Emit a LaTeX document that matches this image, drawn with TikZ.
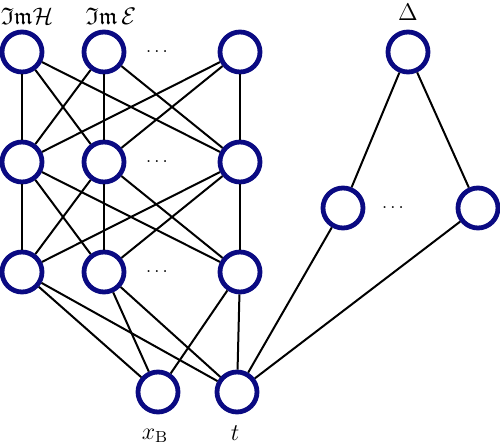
\documentclass[tikz,border=0pt]{standalone}
\usepackage{amsmath,amssymb}
\definecolor{navyc}{RGB}{10,10,130}
\begin{document}
\begin{tikzpicture}[x=0.5pt,y=-0.5pt,
  neuron/.style={circle,draw=navyc,line width=2.4pt,minimum size=20pt,inner sep=0pt,fill=white},
  conn/.style={line width=1pt,black},
  lbl/.style={inner sep=0pt,font=\large},
  dots/.style={inner sep=0pt,font=\small}]
\useasboundingbox (0,0) rectangle (500,448);
% layers
\foreach \r/\y in {1/52,2/162,3/272}{
  \node[neuron] (n\r a) at (22,\y) {};
  \node[neuron] (n\r b) at (104,\y) {};
  \node[neuron] (n\r c) at (240,\y) {};
  \node[dots] (d\r) at (157,\y) {$\ldots$};
}
\node[neuron] (xb) at (158,392) {};
\node[neuron] (t) at (237,392) {};
\node[neuron] (del) at (408,52) {};
\node[neuron] (h1) at (343,208) {};
\node[neuron] (h2) at (478,208) {};
\node[dots] (dh) at (393,208) {$\ldots$};
% labels
\node[lbl] (lH) at (27,16) {$\mathfrak{Im}\mathcal{H}$};
\node[lbl] (lE) at (111,16) {$\mathfrak{Im}\,\mathcal{E}$};
\node[lbl] (lD) at (408,12) {$\Delta$};
\node[lbl] (lx) at (155,436) {$x_{\mathrm{B}}$};
\node[lbl] (lt) at (235,433) {$t$};
% connections
\foreach \u in {a,b,c}{
  \foreach \v in {a,b,c}{
    \draw[conn] (n1\u) -- (n2\v);
    \draw[conn] (n2\u) -- (n3\v);
  }
  \draw[conn] (n3\u) -- (xb);
  \draw[conn] (n3\u) -- (t);
}
\draw[conn] (t) -- (h1);
\draw[conn] (t) -- (h2);
\draw[conn] (del) -- (h1);
\draw[conn] (del) -- (h2);
\end{tikzpicture}
\end{document}
